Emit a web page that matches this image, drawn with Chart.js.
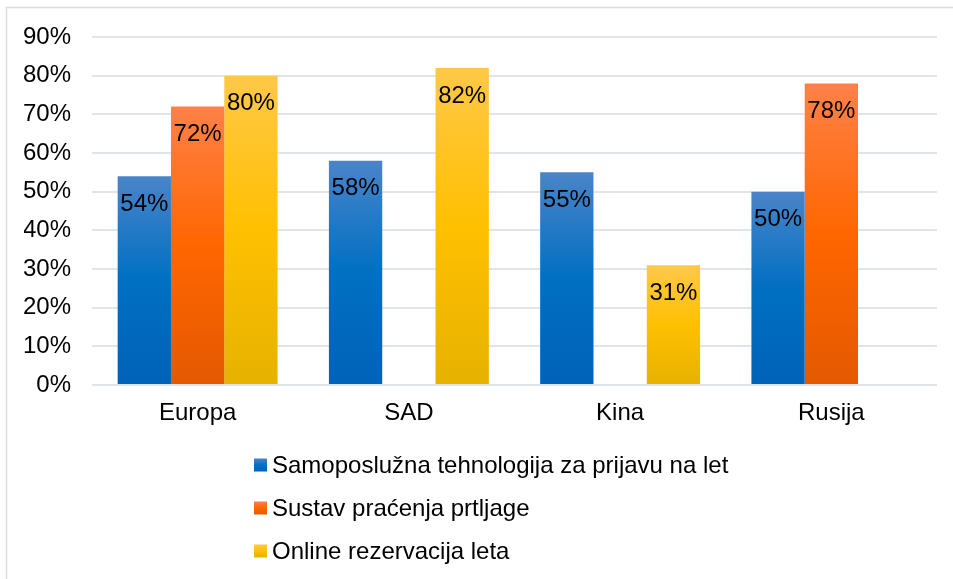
<!DOCTYPE html>
<html>
<head>
<meta charset="utf-8">
<script src="https://cdn.jsdelivr.net/npm/chart.js@4"></script>
<style>
  html, body { margin: 0; padding: 0; background: #fff; }
  #wrap { width: 953px; height: 579px; position: relative; }
</style>
</head>
<body>
<div id="wrap"><canvas id="chart" width="953" height="579"></canvas></div>
<script>
const categories = ['Europa', 'SAD', 'Kina', 'Rusija'];
const seriesNames = [
  'Samoposlužna tehnologija za prijavu na let',
  'Sustav praćenja prtljage',
  'Online rezervacija leta',
];
const selfCheckIn = [54, 58, 55, 50];
const baggageTracking = [72, null, null, 78];
const onlineBooking = [80, 82, 31, null];
const yTicks = [0, 10, 20, 30, 40, 50, 60, 70, 80, 90];

// top / middle / bottom of the office-style bar gradient
const GRADIENTS = [
  ['#4a84c9', '#0070c2', '#0062b8'],
  ['#ff8148', '#ff6600', '#e45900'],
  ['#ffc848', '#ffc000', '#e6b200'],
];
const FONT = "'Liberation Sans', Arial, sans-serif";
const FONT_SIZE = 24;

function barFill(idx) {
  return (c) => {
    const chart = c.chart;
    const y = chart.scales.y;
    const v = c.raw;
    if (!y || v == null || !chart.chartArea) return GRADIENTS[idx][1];
    const top = y.getPixelForValue(v);
    const bottom = y.getPixelForValue(0);
    const g = chart.ctx.createLinearGradient(0, top, 0, bottom);
    g.addColorStop(0, GRADIENTS[idx][0]);
    g.addColorStop(0.5, GRADIENTS[idx][1]);
    g.addColorStop(1, GRADIENTS[idx][2]);
    return g;
  };
}

const frame = {
  id: 'frame',
  beforeDraw(chart) {
    const ctx = chart.ctx;
    ctx.save();
    ctx.strokeStyle = '#d9dde3';
    ctx.lineWidth = 1.5;
    ctx.strokeRect(6.5, 7.5, 1000, 1000);
    ctx.restore();
  },
};

const valueLabels = {
  id: 'valueLabels',
  afterDatasetsDraw(chart) {
    const ctx = chart.ctx;
    ctx.save();
    ctx.font = FONT_SIZE + 'px ' + FONT;
    ctx.fillStyle = '#000';
    ctx.textAlign = 'center';
    ctx.textBaseline = 'middle';
    chart.data.datasets.forEach((ds, i) => {
      chart.getDatasetMeta(i).data.forEach((el, j) => {
        const v = ds.data[j];
        if (v == null) return;
        ctx.fillText(v + '%', el.x, el.y + 28);
      });
    });
    ctx.restore();
  },
};

const sideLegend = {
  id: 'sideLegend',
  afterDraw(chart) {
    const ctx = chart.ctx;
    ctx.save();
    ctx.font = FONT_SIZE + 'px ' + FONT;
    ctx.textBaseline = 'middle';
    chart.data.datasets.forEach((ds, i) => {
      const cy = 465 + i * 43;
      const g = ctx.createLinearGradient(0, cy - 6.5, 0, cy + 6.5);
      g.addColorStop(0, GRADIENTS[i][0]);
      g.addColorStop(0.5, GRADIENTS[i][1]);
      g.addColorStop(1, GRADIENTS[i][2]);
      ctx.fillStyle = g;
      ctx.fillRect(254, cy - 6.5, 13, 13);
      ctx.fillStyle = '#000';
      ctx.fillText(ds.label, 272, cy + 1);
    });
    ctx.restore();
  },
};

new Chart(document.getElementById('chart'), {
  type: 'bar',
  data: {
    labels: categories,
    datasets: [
      { label: seriesNames[0], data: selfCheckIn, backgroundColor: barFill(0) },
      { label: seriesNames[1], data: baggageTracking, backgroundColor: barFill(1) },
      { label: seriesNames[2], data: onlineBooking, backgroundColor: barFill(2) },
    ],
  },
  options: {
    responsive: false,
    animation: false,
    devicePixelRatio: 1,
    categoryPercentage: 0.757,
    barPercentage: 1,
    layout: { padding: { top: 37, left: 24, right: 16, bottom: 152 } },
    plugins: {
      legend: { display: false },
      tooltip: { enabled: false },
    },
    scales: {
      x: {
        grid: { display: false, drawTicks: false },
        border: { display: false },
        ticks: { color: '#000', font: { family: FONT, size: FONT_SIZE }, padding: 14, maxRotation: 0 },
        afterFit(s) { s.height = 42; },
      },
      y: {
        min: yTicks[0],
        max: yTicks[yTicks.length - 1],
        afterBuildTicks(s) { s.ticks = yTicks.map((v) => ({ value: v })); },
        grid: { color: '#e1e4e9', lineWidth: 2, drawTicks: false },
        border: { display: false },
        ticks: {
          color: '#000',
          font: { family: FONT, size: FONT_SIZE },
          padding: 21,
          callback: (v) => v + '%',
        },
        afterFit(s) { s.width = 68; },
      },
    },
  },
  plugins: [frame, valueLabels, sideLegend],
});
</script>
</body>
</html>
